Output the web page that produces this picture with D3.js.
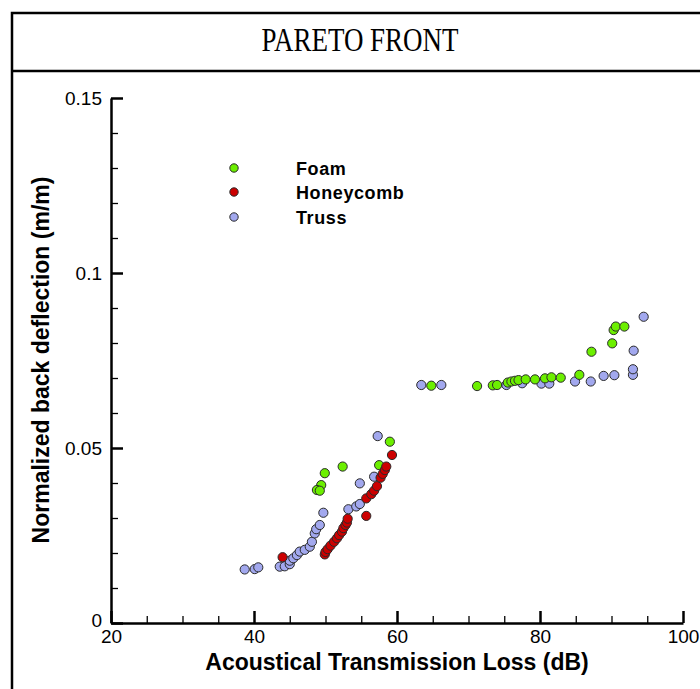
<!DOCTYPE html>
<html>
<head>
<meta charset="utf-8">
<script src="https://cdn.jsdelivr.net/npm/d3@7"></script>
<style>
  html, body { margin: 0; padding: 0; background: #fff; }
  svg { display: block; }
</style>
</head>
<body>
<svg id="chart" width="700" height="689"></svg>
<script>
// ---- data ----
const title = "PARETO FRONT";
const xLabel = "Acoustical Transmission Loss (dB)";
const yLabel = "Normalized back deflection (m/m)";
const seriesNames = ["Foam", "Honeycomb", "Truss"];
const xTicks = [20, 40, 60, 80, 100];
const yTicks = [0, 0.05, 0.1, 0.15];
const xTickLabels = ["20", "40", "60", "80", "100"];
const yTickLabels = ["0", "0.05", "0.1", "0.15"];

const foamX = [49.9, 49.4, 48.8, 49.2, 52.4, 57.5, 59.0, 64.8, 71.2, 73.4, 74.0, 75.5, 76.0, 76.5, 77.0, 78.0, 79.3, 80.7, 81.6, 82.9, 85.5, 87.2, 90.1, 90.3, 90.6, 91.8];
const foamY = [0.0428, 0.0394, 0.0380, 0.0378, 0.0447, 0.0451, 0.0518, 0.0678, 0.0677, 0.0679, 0.0680, 0.0687, 0.0690, 0.0692, 0.0694, 0.0696, 0.0696, 0.0699, 0.0702, 0.0701, 0.0709, 0.0775, 0.0799, 0.0837, 0.0847, 0.0847];

const honeyX = [44.0, 49.9, 50.0, 50.3, 50.7, 51.2, 51.6, 51.9, 52.3, 52.5, 52.8, 53.0, 53.1, 55.7, 55.7, 56.4, 56.8, 57.2, 57.7, 58.0, 58.3, 58.5, 59.3];
const honeyY = [0.0188, 0.0196, 0.0203, 0.0211, 0.0221, 0.0232, 0.0242, 0.0251, 0.0261, 0.0271, 0.0280, 0.0287, 0.0298, 0.0306, 0.0356, 0.0368, 0.0378, 0.0391, 0.0415, 0.0426, 0.0437, 0.0447, 0.0480];

const trussX = [38.7, 40.1, 40.6, 43.6, 44.3, 45.0, 45.0, 45.5, 46.0, 46.4, 47.1, 47.8, 48.1, 48.5, 48.7, 49.2, 49.7, 53.2, 54.3, 54.8, 54.8, 56.8, 57.3, 63.4, 66.2, 75.3, 77.5, 80.2, 81.3, 84.9, 87.1, 88.9, 90.4, 93.0, 93.0, 93.1, 94.5];
const trussY = [0.0153, 0.0154, 0.0159, 0.0161, 0.0162, 0.0168, 0.0178, 0.0185, 0.0194, 0.0204, 0.0209, 0.0218, 0.0232, 0.0256, 0.0268, 0.0280, 0.0315, 0.0325, 0.0333, 0.0340, 0.0399, 0.0418, 0.0534, 0.0680, 0.0680, 0.0680, 0.0685, 0.0684, 0.0684, 0.0690, 0.0690, 0.0706, 0.0708, 0.0709, 0.0725, 0.0778, 0.0875];

const colors = ["#6cef00", "#cc0000", "#a2a8ee"];

// ---- layout ----
const svg = d3.select("#chart");
const x = d3.scaleLinear().domain([20, 100]).range([111, 683]);
const y = d3.scaleLinear().domain([0, 0.15]).range([623, 98]);

// frame
svg.append("path")
  .attr("d", "M12,705 L12,13 L712,13 L712,705")
  .attr("fill", "none").attr("stroke", "#000").attr("stroke-width", 2.5);
svg.append("line")
  .attr("x1", 12).attr("x2", 712).attr("y1", 71).attr("y2", 71)
  .attr("stroke", "#000").attr("stroke-width", 2.5);
svg.append("text")
  .attr("x", 360).attr("y", 51)
  .attr("text-anchor", "middle")
  .attr("font-family", "Liberation Serif, serif")
  .attr("font-size", 33)
  .attr("textLength", 197).attr("lengthAdjust", "spacingAndGlyphs")
  .text(title);

// axes
const fontSans = "Liberation Sans, Arial, sans-serif";
const minorX = d3.range(20, 100.1, 5).filter(v => v % 20 !== 0);
const minorY = d3.range(0, 0.1501, 0.01).map(v => +v.toFixed(3)).filter(v => Math.round(v * 1000) % 50 !== 0);

const gx = svg.append("g").attr("transform", "translate(0,623)")
  .call(d3.axisBottom(x).tickValues(xTicks).tickFormat((d, i) => xTickLabels[i]).tickSize(-12).tickPadding(7).tickSizeOuter(0));
const gxm = svg.append("g").attr("transform", "translate(0,623)")
  .call(d3.axisBottom(x).tickValues(minorX).tickFormat("").tickSize(-7).tickSizeOuter(0));
const gy = svg.append("g").attr("transform", "translate(111,0)")
  .call(d3.axisLeft(y).tickValues(yTicks).tickFormat((d, i) => yTickLabels[i]).tickSize(-12).tickPadding(9).tickSizeOuter(0));
const gym = svg.append("g").attr("transform", "translate(111,0)")
  .call(d3.axisLeft(y).tickValues(minorY).tickFormat("").tickSize(-7).tickSizeOuter(0));

[gx, gy].forEach(g => {
  g.select(".domain").attr("stroke", "#000").attr("stroke-width", 2.5);
  g.selectAll(".tick line").attr("stroke", "#000").attr("stroke-width", 2.5);
  g.selectAll(".tick text").attr("font-family", fontSans).attr("font-size", 19).attr("fill", "#000");
});
[gxm, gym].forEach(g => {
  g.select(".domain").remove();
  g.selectAll(".tick line").attr("stroke", "#000").attr("stroke-width", 1.3);
});
gy.selectAll(".tick text").filter(d => d === 0).attr("dy", "0.2em");

// axis titles
svg.append("text")
  .attr("x", 397).attr("y", 670)
  .attr("text-anchor", "middle")
  .attr("font-family", fontSans).attr("font-weight", "bold").attr("font-size", 23)
  .text(xLabel);
svg.append("text")
  .attr("transform", "translate(49,360) rotate(-90)")
  .attr("text-anchor", "middle")
  .attr("font-family", fontSans).attr("font-weight", "bold").attr("font-size", 23)
  .text(yLabel);

// points
function drawSeries(xs, ys, color) {
  svg.append("g").selectAll("circle")
    .data(xs.map((v, i) => [v, ys[i]]))
    .join("circle")
    .attr("cx", d => x(d[0])).attr("cy", d => y(d[1]))
    .attr("r", 4.6)
    .attr("fill", color)
    .attr("stroke", "#2a2a2a").attr("stroke-width", 1);
}
drawSeries(trussX, trussY, colors[2]);
drawSeries(foamX, foamY, colors[0]);
drawSeries(honeyX, honeyY, colors[1]);

// legend
const legendY = [168, 192, 217];
const leg = svg.append("g");
seriesNames.forEach((name, i) => {
  leg.append("circle")
    .attr("cx", 234).attr("cy", legendY[i]).attr("r", 4.2)
    .attr("fill", colors[i]).attr("stroke", "#2a2a2a").attr("stroke-width", 1);
  leg.append("text")
    .attr("x", 296).attr("y", legendY[i] + 6.5)
    .attr("font-family", fontSans).attr("font-weight", "bold").attr("font-size", 18)
    .attr("letter-spacing", 0.6)
    .text(name);
});
</script>
</body>
</html>
